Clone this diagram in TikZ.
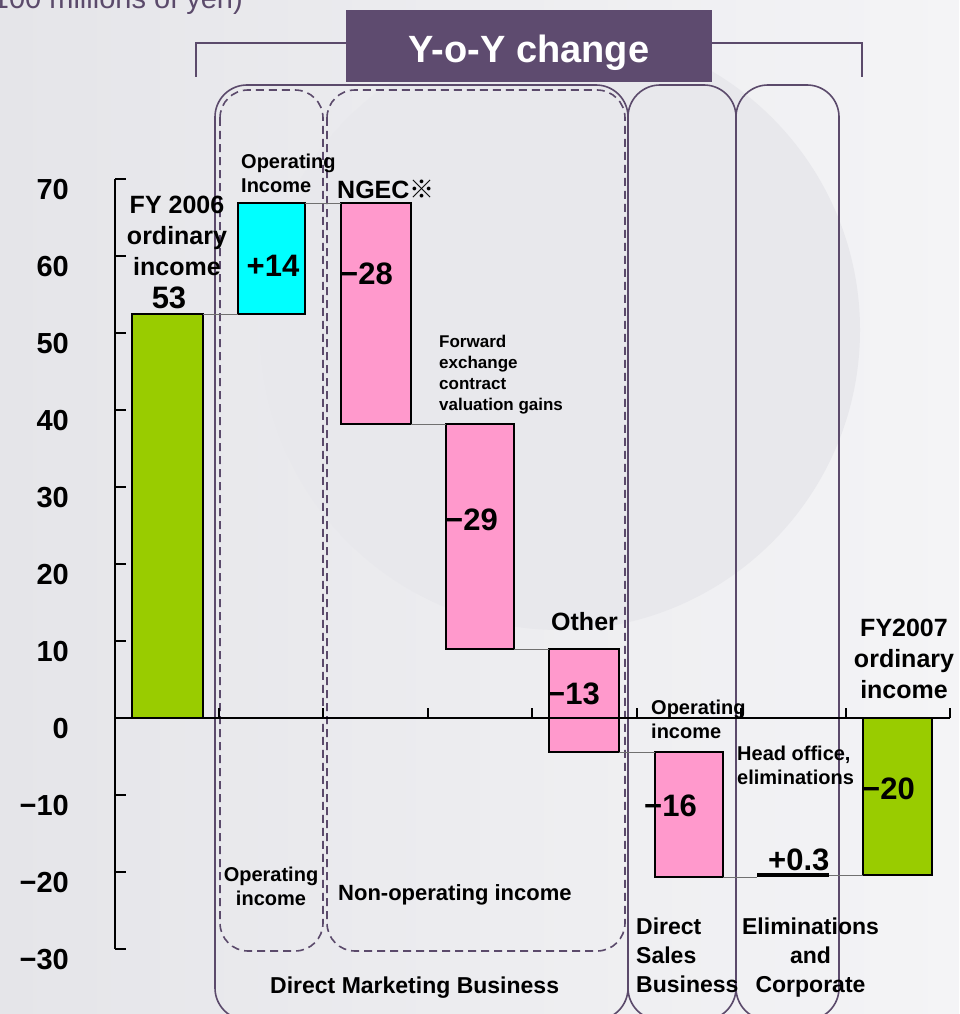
\documentclass[tikz,border=0pt]{standalone}
\usepackage{fontspec}
\setmainfont{Liberation Sans}
\newfontfamily\cjkfont{Noto Sans CJK JP}
\newcommand\myfs[2]{\fontsize{#1}{#2}\selectfont}
\definecolor{bgL}{HTML}{E5E5E9}
\definecolor{bgR}{HTML}{F4F4F6}
\definecolor{bgD}{HTML}{E8E8EC}
\definecolor{grpLine}{HTML}{5B4A6B}
\definecolor{titleFill}{HTML}{5E4B6F}
\definecolor{barGreen}{HTML}{99CC00}
\definecolor{barCyan}{HTML}{00FFFF}
\definecolor{barPink}{HTML}{FF99CC}
\definecolor{connGray}{HTML}{707070}
\begin{document}
\begin{tikzpicture}[x=1pt,y=-1pt,
  bar/.style={draw=black, line width=2pt, inner sep=0pt, outer sep=0pt},
  conn/.style={draw=connGray, line width=1pt},
  grp/.style={draw=grpLine, line width=1.6pt, rounded corners=32pt},
  dgrp/.style={draw=grpLine, line width=1.6pt, rounded corners=28pt, dash pattern=on 8pt off 5pt},
  brk/.style={draw=grpLine, line width=2pt},
  axisln/.style={draw=black, line width=2pt},
  ylab/.style={inner sep=0pt, font=\bfseries\myfs{29}{32}},
  val/.style={inner sep=0pt, font=\bfseries\myfs{31}{34}},
  lbl/.style={inner sep=0pt, font=\bfseries\myfs{20}{24}, align=left},
  big/.style={inner sep=0pt, font=\bfseries\myfs{25}{31}, align=center},
  cat/.style={inner sep=0pt, font=\bfseries\myfs{23}{29}}
]
\useasboundingbox (0,0) rectangle (959,1014);
\clip (0,0) rectangle (959,1014);
% background
\shade[left color=bgL, right color=bgR] (0,0) rectangle (959,1014);
\fill[bgD] (560,330) circle (300pt);

% unit note
\node[inner sep=0pt, anchor=base east, text=grpLine, font=\myfs{29}{32}] (unit) at (243,9) {(100 millions of yen)};

% groups
\draw[grp] (215,85) rectangle (628,1020);
\draw[grp] (628,85) rectangle (736,1020);
\draw[grp] (736,85) rectangle (839,1020);
\draw[dgrp] (220,90) rectangle (323,951);
\draw[dgrp] (327,90) rectangle (625,951);

% title and bracket
\node[fill=titleFill, minimum width=366pt, minimum height=72pt, inner sep=0pt, outer sep=0pt] (title) at (529,46) {};
\node[inner sep=0pt, anchor=base, text=white, font=\bfseries\myfs{38}{40}] (ttext) at (529,63) {Y-o-Y change};
\draw[brk] (196,77) |- ([yshift=3pt]title.west);
\draw[brk] (862,77) |- ([yshift=3pt]title.east);

% bars
\node[bar, fill=barGreen, minimum width=71pt, minimum height=404pt] (g1) at (167.5,516) {};
\node[bar, fill=barCyan, minimum width=67pt, minimum height=111pt] (cy) at (271.5,258.5) {};
\node[bar, fill=barPink, minimum width=70pt, minimum height=221pt] (ng) at (376,313.5) {};
\node[bar, fill=barPink, minimum width=68pt, minimum height=225pt] (p2) at (480,536.5) {};
\node[bar, fill=barPink, minimum width=70pt, minimum height=103pt] (ot) at (584,700.5) {};
\node[bar, fill=barPink, minimum width=68pt, minimum height=125pt] (p4) at (689,814.5) {};
\node[fill=black, minimum width=72pt, minimum height=4pt, inner sep=0pt, outer sep=0pt] (zb) at (793,875) {};
\node[bar, fill=barGreen, minimum width=69pt, minimum height=157pt] (g2) at (897.5,796.5) {};

% connectors
\draw[conn] (g1.north east) -- (cy.south west);
\draw[conn] (cy.north east) -- (ng.north west);
\draw[conn] (ng.south east) -- (p2.north west);
\draw[conn] (p2.south east) -- (ot.north west);
\draw[conn] (ot.south east) -- (p4.north west);
\draw[conn] (p4.south east) -- (zb.south west);
\draw[conn] (zb.east) -- (g2.south west);

% axes
\draw[axisln] (115,179) -- (115,949);
\foreach \t in {179,256,333,410,487,564,641,718,795,872,949}
  \draw[axisln] (115,\t) -- (126,\t);
\draw[axisln] (115,718) -- (950,718);
\foreach \xx in {219,323,428,532,637,741,846,950}
  \draw[axisln] (\xx,708) -- (\xx,718);
\foreach \v/\t [count=\i] in {70/179,60/256,50/333,40/410,30/487,20/564,10/641,0/718,−10/795,−20/872,−30/949}
  \node[ylab, anchor=base east] (yl\i) at (69,{\t+20}) {\v};

% labels
\node[big, anchor=north] (fy6) at (177,196) {FY 2006\\ordinary\\income};
\node[val, anchor=base] (v53) at (169,308) {53};
\node[lbl, anchor=north west] (opinc1) at (241,154) {Operating\\Income};
\node[val, anchor=base] (v14) at (273,276) {+14};
\node[inner sep=0pt, anchor=base west, font=\bfseries\myfs{25}{30}] (ngec) at (337,198) {NGEC{\cjkfont\bfseries ※}};
\node[val, anchor=base west] (v28) at (340,284) {−28};
\node[inner sep=0pt, anchor=north west, align=left, font=\bfseries\myfs{17}{21}] (fwd) at (439,335) {Forward\\exchange\\contract\\valuation gains};
\node[val, anchor=base west] (v29) at (445,530) {−29};
\node[inner sep=0pt, anchor=base west, font=\bfseries\myfs{25}{30}] (other) at (551,630) {Other};
\node[val, anchor=base west] (v13) at (547,704) {−13};
\node[lbl, anchor=north west] (opinc2) at (651,700) {Operating\\income};
\node[lbl, anchor=north west] (head) at (737,746) {Head office,\\eliminations};
\node[val, anchor=base west] (v16) at (644,816) {−16};
\node[val, anchor=base west] (v03) at (768,870) {+0.3};
\node[val, anchor=base west] (v20) at (862,799) {−20};
\node[big, anchor=north] (fy7) at (904,619) {FY2007\\ordinary\\income};
\node[lbl, anchor=north, align=center] (opinc3) at (271,867) {Operating\\income};
\node[inner sep=0pt, anchor=base west, font=\bfseries\myfs{22}{26}] (nonop) at (338,900) {Non-operating income};
\node[cat, anchor=base west] (dmb) at (270,993) {Direct Marketing Business};
\node[cat, anchor=north west, align=left] (dsb) at (636,918) {Direct\\Sales\\Business};
\node[cat, anchor=north, align=center] (elim) at (810.5,918) {Eliminations\\and\\Corporate};
\end{tikzpicture}
\end{document}
